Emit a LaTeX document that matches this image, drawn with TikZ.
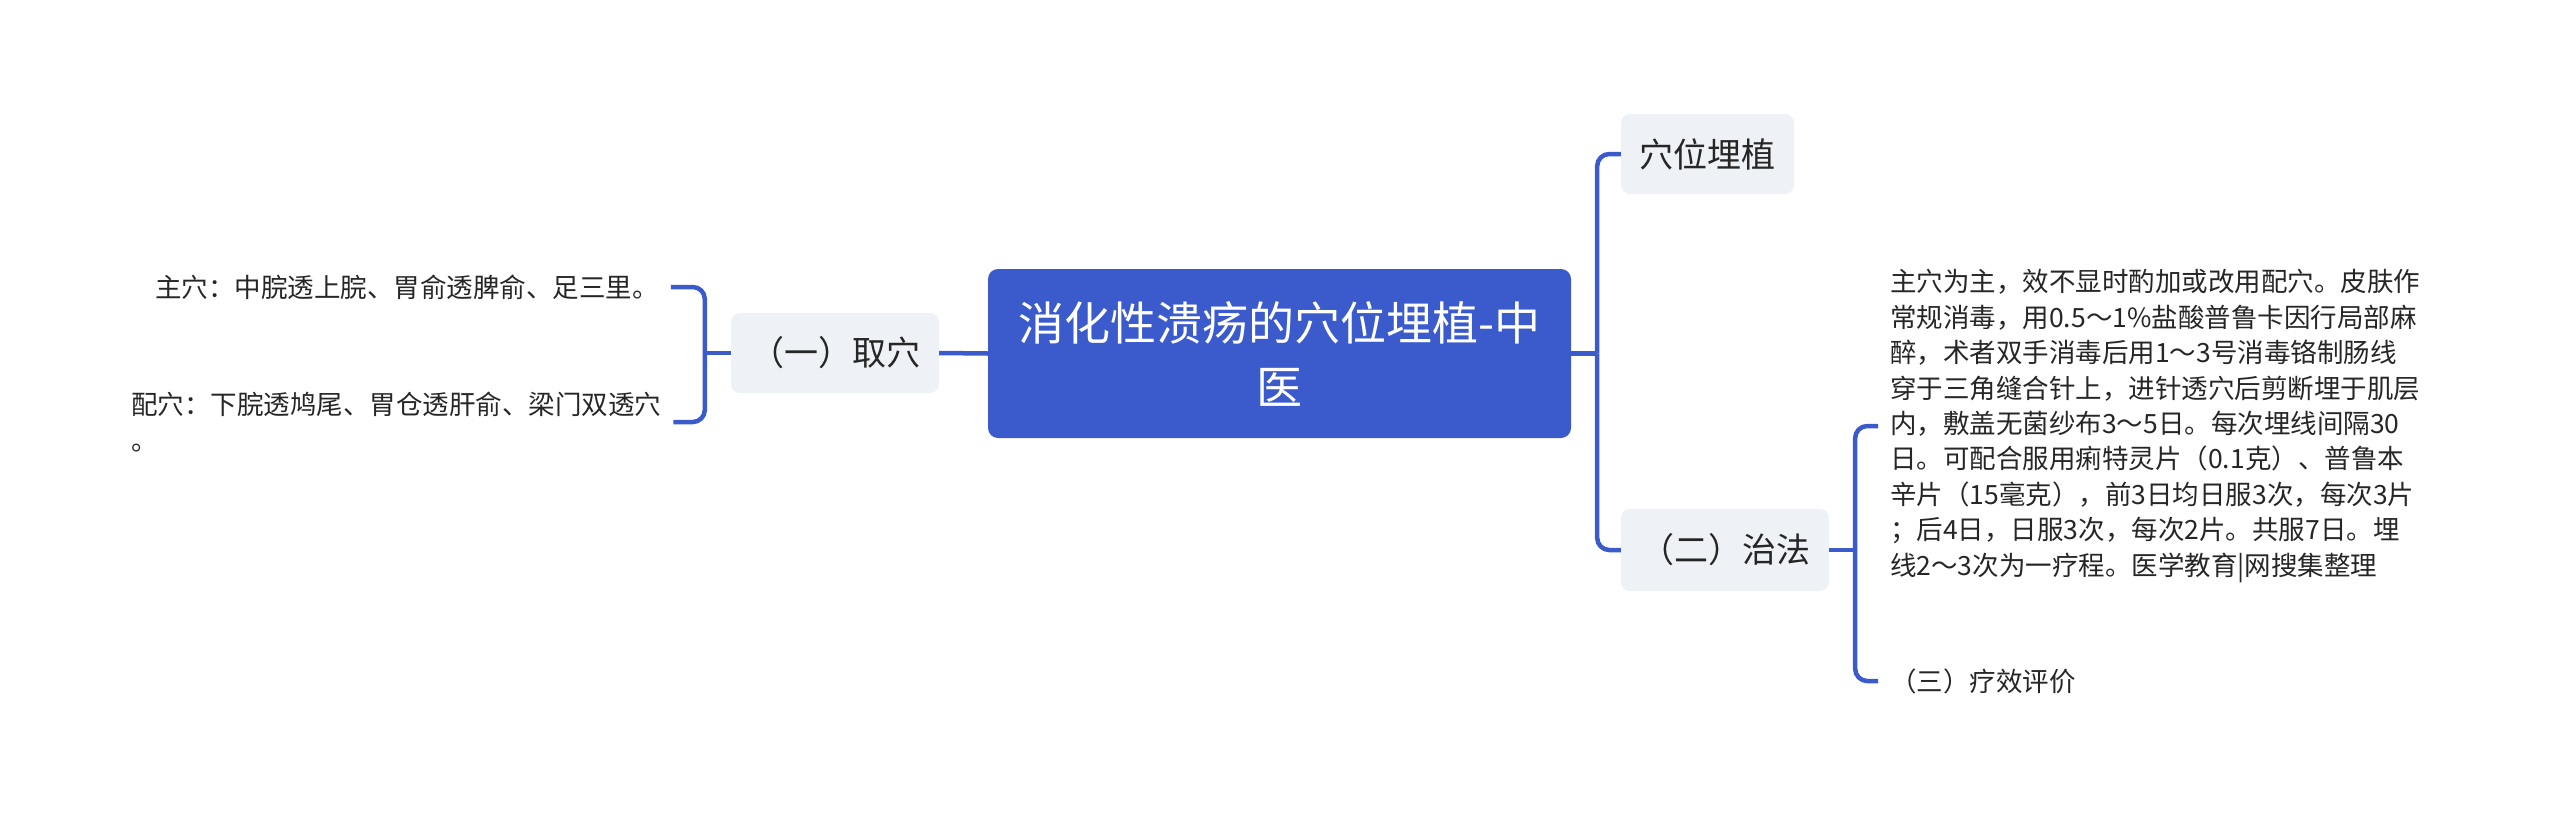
\documentclass[tikz,border=0pt]{standalone}
\usepackage{fontspec}
\setmainfont{Noto Sans CJK SC}
\usepackage{tikz}
\usetikzlibrary{positioning}
\definecolor{mapblue}{HTML}{3B5BCC}
\definecolor{mapgray}{HTML}{EEF1F5}
\definecolor{maptext}{HTML}{262626}

\begin{document}
\begin{tikzpicture}[x=1pt,y=-1pt,
  conn/.style={mapblue, line width=4.5pt, rounded corners=12pt},
  topic/.style={fill=mapgray, rounded corners=9pt, text=maptext,
    font=\fontsize{34}{44}\selectfont, minimum height=80pt, inner sep=0pt},
  leaf/.style={text=maptext, font=\fontsize{26.5}{35.4}\selectfont,
    align=left, inner xsep=12pt, inner ysep=0pt}]
  % Canvas in pixels of the reference (2560 x 827)
  \useasboundingbox (0,0) rectangle (2560,827);

  % Central topic
  \node[fill=mapblue, rounded corners=10pt, text=white, align=center,
    font=\fontsize{46}{64}\selectfont, minimum width=583pt,
    minimum height=169pt, inner sep=0pt] (root) at (1279.5,353.5)
    {消化性溃疡的穴位埋植-中\\医};

  % First level topics
  \node[topic, minimum width=208pt] (quxue) at (835,353) {（一）取穴};
  \node[topic, minimum width=173pt] (xuewei) at (1707.5,154) {穴位埋植};
  \node[topic, minimum width=208pt, minimum height=82pt] (zhifa) at (1725,550)
    {（二）治法};

  % Leaves on the left
  \node[leaf, anchor=west] (zhuxue) at (143,287)
    {主穴：中脘透上脘、胃俞透脾俞、足三里。};
  \node[leaf, anchor=west] (peixue) at (119,422)
    {配穴：下脘透鸠尾、胃仓透肝俞、梁门双透穴\\。};

  % Leaves on the right
  \node[leaf, anchor=west] (method) at (1878,426)
    {主穴为主，效不显时酌加或改用配穴。皮肤作\\
     常规消毒，用0.5～1\%盐酸普鲁卡因行局部麻\\
     醉，术者双手消毒后用1～3号消毒铬制肠线\\
     穿于三角缝合针上，进针透穴后剪断埋于肌层\\
     内，敷盖无菌纱布3～5日。每次埋线间隔30\\
     日。可配合服用痢特灵片（0.1克）、普鲁本\\
     辛片（15毫克），前3日均日服3次，每次3片\\
     ；后4日，日服3次，每次2片。共服7日。埋\\
     线2～3次为一疗程。医学教育|网搜集整理};
  \node[leaf, anchor=west] (liaoxiao) at (1878,681) {（三）疗效评价};

  % Hubs where the branches split
  \coordinate (lhub) at ([xshift=-26pt]quxue.west);
  \coordinate (rhub) at ([xshift=26pt]root.east);
  \coordinate (zhub) at ([xshift=26pt]zhifa.east);

  % Connectors
  \draw[conn] (root.west) -- (quxue.east);
  \draw[conn] (quxue.west) -- (lhub);
  \draw[conn] (lhub) |- (zhuxue.east);
  \draw[conn] (lhub) |- (peixue.east);

  \draw[conn] (root.east) -- (rhub);
  \draw[conn] (rhub) |- (xuewei.west);
  \draw[conn] (rhub) |- (zhifa.west);

  \draw[conn] (zhifa.east) -- (zhub);
  \draw[conn] (zhub) |- (method.west);
  \draw[conn] (zhub) |- (liaoxiao.west);

\end{tikzpicture}
\end{document}
